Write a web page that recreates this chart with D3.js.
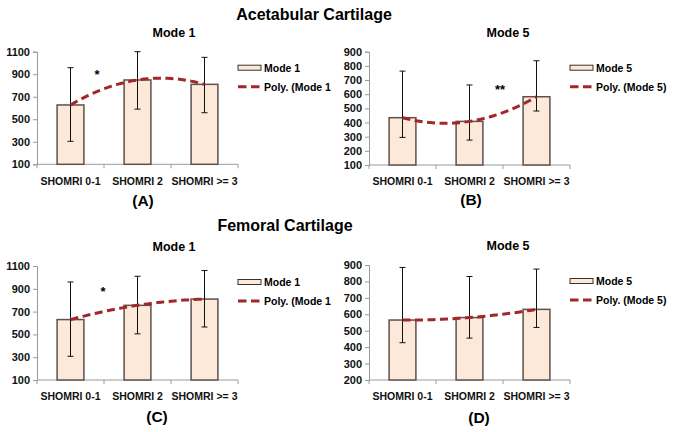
<!DOCTYPE html>
<html><head><meta charset="utf-8">
<script src="https://cdn.jsdelivr.net/npm/d3@7"></script>
<style>
body{margin:0;background:#fff;}
svg{display:block;font-family:"Liberation Sans",Arial,sans-serif;font-weight:bold;}
</style></head>
<body><svg id="c" width="676" height="432"></svg>
<script>
const categories = ["SHOMRI 0-1", "SHOMRI 2", "SHOMRI >= 3"];
// Acetabular Mode 1
const acetMode1 = [627, 849, 810];
const acetMode1Hi = [958, 1100, 1050];
const acetMode1Lo = [304, 590, 558];
// Acetabular Mode 5
const acetMode5 = [434, 408, 582];
const acetMode5Hi = [763, 665, 836];
const acetMode5Lo = [295, 276, 481];
// Femoral Mode 1
const femMode1 = [630, 755, 810];
const femMode1Hi = [960, 1010, 1060];
const femMode1Lo = [308, 505, 565];
// Femoral Mode 5
const femMode5 = [565, 580, 630];
const femMode5Hi = [885, 830, 875];
const femMode5Lo = [427, 455, 520];
// tick labels
const ticksMode1 = [100, 300, 500, 700, 900, 1100];
const ticksMode5A = [100, 200, 300, 400, 500, 600, 700, 800, 900];
const ticksMode5F = [200, 300, 400, 500, 600, 700, 800, 900];

const svg = d3.select("#c");
const trendColor = "#a3262a";

function quadFit(v){
  // exact 2nd-order polynomial through 3 points at x=0,1,2
  const a = (v[0] - 2*v[1] + v[2]) / 2;
  const b = v[1] - v[0] - a;
  const c = v[0];
  return t => a*t*t + b*t + c;
}

function panel(o){
  const g = svg.append("g");
  const x = d3.scaleBand().domain(categories).range([o.x0, o.x1]).paddingInner(0.6).paddingOuter(0.3);
  const y = d3.scaleLinear().domain(o.domain).range([o.yb, o.yt]);

  // y axis
  const ya = g.append("g").attr("transform", `translate(${o.x0},0)`)
    .call(d3.axisLeft(y).tickValues(o.ticks).tickSize(4).tickPadding(3).tickFormat(d3.format("d")));
  ya.select(".domain").attr("stroke", "#9a9a9a");
  ya.selectAll(".tick line").attr("stroke", "#9a9a9a");
  ya.selectAll(".tick text").attr("font-size", 11).attr("font-weight", "bold")
    .attr("font-family", "Liberation Sans, Arial, sans-serif").attr("fill", "#111");

  // x axis
  const xa = g.append("g").attr("transform", `translate(0,${o.yb})`)
    .call(d3.axisBottom(x).tickSize(0).tickPadding(13));
  xa.select(".domain").attr("stroke", "#9a9a9a").attr("d", `M${o.x0},0H${o.x1}`);
  xa.selectAll(".tick text").attr("font-size", 10.5).attr("font-weight", "bold")
    .attr("font-family", "Liberation Sans, Arial, sans-serif").attr("fill", "#111");
  for (let i = 0; i <= categories.length; i++) {
    const bx = o.x0 + i * x.step();
    xa.append("line").attr("x1", bx).attr("x2", bx).attr("y1", 0).attr("y2", 4).attr("stroke", "#9a9a9a");
  }

  // bars
  g.selectAll("rect.bar").data(o.values).enter().append("rect")
    .attr("x", (d,i) => x(categories[i]))
    .attr("width", x.bandwidth())
    .attr("y", d => y(d))
    .attr("height", d => o.yb - y(d))
    .attr("fill", "#fde9da").attr("stroke", "#5e514c").attr("stroke-width", 1.5);

  // error bars
  const cx = i => x(categories[i]) + x.bandwidth()/2;
  o.values.forEach((v,i) => {
    const X = cx(i);
    g.append("line").attr("x1", X).attr("x2", X).attr("y1", y(o.hi[i])).attr("y2", y(o.lo[i])).attr("stroke", "#111").attr("stroke-width", 1);
    [o.hi[i], o.lo[i]].forEach(e => {
      g.append("line").attr("x1", X-3).attr("x2", X+3).attr("y1", y(e)).attr("y2", y(e)).attr("stroke", "#111").attr("stroke-width", 1);
    });
  });

  // polynomial trend line
  const f = quadFit(o.values);
  const ts = d3.range(0, 2.0001, 0.05);
  const xt = d3.scaleLinear().domain([0, 2]).range([cx(0), cx(2)]);
  g.append("path").datum(ts)
    .attr("d", d3.line().x(t => xt(t)).y(t => y(f(t))))
    .attr("fill", "none").attr("stroke", trendColor).attr("stroke-width", 3).attr("stroke-dasharray", "8,4.5");

  // subtitle
  g.append("text").attr("x", o.titleX).attr("y", o.yt - 15).attr("text-anchor", "middle")
    .attr("font-size", 12.5).text(o.title);

  // legend
  const lx = o.x1 + 0, ly = o.yt + 16;
  g.append("rect").attr("x", lx).attr("y", ly - 2.5).attr("width", 23).attr("height", 5)
    .attr("fill", "#fde9da").attr("stroke", "#3a3230").attr("stroke-width", 1);
  g.append("text").attr("x", lx + 26).attr("y", ly + 4).attr("font-size", 10.5).text(o.title);
  g.append("line").attr("x1", lx).attr("x2", lx + 23).attr("y1", ly + 19).attr("y2", ly + 19)
    .attr("stroke", trendColor).attr("stroke-width", 3).attr("stroke-dasharray", "8.5,4.5");
  g.append("text").attr("x", lx + 26).attr("y", ly + 23).attr("font-size", 10.5).text(o.polyLabel);

  // significance marker
  if (o.star) {
    g.append("text").attr("x", o.star[0]).attr("y", o.star[1]).attr("text-anchor", "middle")
      .attr("font-size", 13).text(o.star[2]);
  }
  // panel label
  g.append("text").attr("x", o.labelX).attr("y", o.labelY).attr("text-anchor", "middle")
    .attr("font-size", 15.5).text(o.label);
}

svg.append("text").attr("x", 314).attr("y", 20).attr("text-anchor", "middle").attr("font-size", 16).text("Acetabular Cartilage");
svg.append("text").attr("x", 285).attr("y", 231).attr("text-anchor", "middle").attr("font-size", 16).text("Femoral Cartilage");

panel({x0: 37, x1: 238, yt: 51.7, yb: 164.3, domain: [100, 1100], ticks: ticksMode1,
  values: acetMode1, hi: acetMode1Hi, lo: acetMode1Lo, title: "Mode 1", titleX: 174,
  polyLabel: "Poly. (Mode 1", star: [97, 79, "*"], label: "(A)", labelX: 143, labelY: 206});
panel({x0: 369, x1: 570, yt: 51.7, yb: 165, domain: [100, 900], ticks: ticksMode5A,
  values: acetMode5, hi: acetMode5Hi, lo: acetMode5Lo, title: "Mode 5", titleX: 508,
  polyLabel: "Poly. (Mode 5)", star: [500, 94, "**"], label: "(B)", labelX: 471, labelY: 205});
panel({x0: 37, x1: 238, yt: 266, yb: 380, domain: [100, 1100], ticks: ticksMode1,
  values: femMode1, hi: femMode1Hi, lo: femMode1Lo, title: "Mode 1", titleX: 174,
  polyLabel: "Poly. (Mode 1", star: [103, 296, "*"], label: "(C)", labelX: 157, labelY: 422});
panel({x0: 369, x1: 570, yt: 265, yb: 380, domain: [200, 900], ticks: ticksMode5F,
  values: femMode5, hi: femMode5Hi, lo: femMode5Lo, title: "Mode 5", titleX: 508,
  polyLabel: "Poly. (Mode 5)", star: null, label: "(D)", labelX: 479, labelY: 423});
</script></body></html>
